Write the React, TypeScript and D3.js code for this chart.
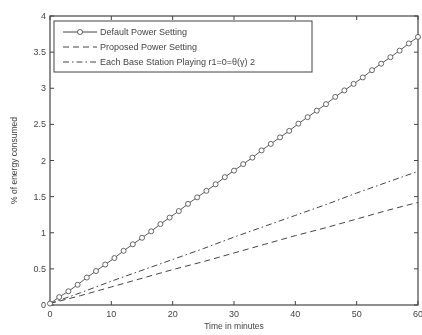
import React from "react";
import * as d3 from "d3";

const defaultTimes = [0, 1.5, 3, 4.5, 6, 7.5, 9, 10.5, 12, 13.5, 15, 16.5, 18, 19.5, 21, 22.5, 24, 25.5, 27, 28.5, 30, 31.5, 33, 34.5, 36, 37.5, 39, 40.5, 42, 43.5, 45, 46.5, 48, 49.5, 51, 52.5, 54, 55.5, 57, 58.5, 60];
const defaultValues = [0.02, 0.11, 0.19, 0.28, 0.38, 0.47, 0.56, 0.65, 0.75, 0.84, 0.93, 1.02, 1.12, 1.21, 1.3, 1.4, 1.49, 1.58, 1.67, 1.77, 1.86, 1.95, 2.04, 2.14, 2.23, 2.32, 2.41, 2.51, 2.6, 2.69, 2.78, 2.88, 2.97, 3.06, 3.15, 3.25, 3.34, 3.43, 3.52, 3.62, 3.71];
const lineTimes = [0, 5, 10, 15, 20, 25, 30, 35, 40, 45, 50, 55, 60];
const proposedValues = [0.02, 0.13, 0.25, 0.37, 0.49, 0.6, 0.72, 0.84, 0.96, 1.07, 1.19, 1.31, 1.42];
const eachValues = [0.02, 0.17, 0.33, 0.48, 0.63, 0.78, 0.94, 1.09, 1.24, 1.39, 1.55, 1.7, 1.85];
const xTicks = [0, 10, 20, 30, 40, 50, 60];
const yTicks = [0, 0.5, 1, 1.5, 2, 2.5, 3, 3.5, 4];
const legendLabels = ["Default Power Setting", "Proposed Power Setting", "Each Base Station Playing r1=0=θ(γ) 2"];

const W = 422, H = 335;
const L = 50, R = 418, T = 16, B = 305;
const ink = "#444";

export default function App() {
  const x = d3.scaleLinear().domain([0, 60]).range([L, R]);
  const y = d3.scaleLinear().domain([0, 4]).range([B, T]);
  const line = d3.line<[number, number]>().x(d => x(d[0])).y(d => y(d[1]));
  const defPts: [number, number][] = defaultTimes.map((t, i) => [t, defaultValues[i]]);
  const propPts: [number, number][] = lineTimes.map((t, i) => [t, proposedValues[i]]);
  const eachPts: [number, number][] = lineTimes.map((t, i) => [t, eachValues[i]]);
  const font = "'Liberation Sans', Arial, sans-serif";
  const legY = [32, 47, 62];
  return (
    <div style={{ position: "absolute", left: 0, top: 0 }}>
      <svg width={W} height={H} style={{ display: "block", background: "#fff" }} fontFamily={font}>
        <defs>
          <filter id="blur"><feGaussianBlur stdDeviation="0.45" /></filter>
        </defs>
        <g filter="url(#blur)">
          <rect x={L} y={T} width={R - L} height={B - T} fill="none" stroke={ink} strokeWidth={1.2} />
          {xTicks.map(t => (
            <g key={"x" + t}>
              <line x1={x(t)} x2={x(t)} y1={B} y2={B - 4} stroke={ink} />
              <line x1={x(t)} x2={x(t)} y1={T} y2={T + 4} stroke={ink} />
              <text x={x(t)} y={B + 12} fontSize={9} textAnchor="middle" fill={ink}>{t}</text>
            </g>
          ))}
          {yTicks.map(t => (
            <g key={"y" + t}>
              <line x1={L} x2={L + 4} y1={y(t)} y2={y(t)} stroke={ink} />
              <line x1={R} x2={R - 4} y1={y(t)} y2={y(t)} stroke={ink} />
              <text x={L - 4} y={y(t) + 3} fontSize={9} textAnchor="end" fill={ink}>{t}</text>
            </g>
          ))}
          <text x={(L + R) / 2} y={329} fontSize={8.5} textAnchor="middle" fill={ink}>Time in minutes</text>
          <text transform={`translate(17,${(T + B) / 2}) rotate(-90)`} fontSize={8.5} textAnchor="middle" fill={ink}>% of energy consumed</text>

          <path d={line(eachPts) || ""} fill="none" stroke={ink} strokeWidth={1} strokeDasharray="6,3,1.5,3" />
          <path d={line(propPts) || ""} fill="none" stroke={ink} strokeWidth={1} strokeDasharray="6,4" />
          <path d={line(defPts) || ""} fill="none" stroke={ink} strokeWidth={0.9} />
          {defPts.map((p, i) => (
            <circle key={i} cx={x(p[0])} cy={y(p[1])} r={2.5} fill="#fff" stroke={ink} strokeWidth={0.8} />
          ))}

          <rect x={54} y={21} width={258} height={51} fill="#fff" stroke={ink} strokeWidth={1} />
          <line x1={63} x2={97} y1={legY[0]} y2={legY[0]} stroke={ink} />
          <circle cx={80} cy={legY[0]} r={2.5} fill="#fff" stroke={ink} strokeWidth={0.8} />
          <line x1={63} x2={97} y1={legY[1]} y2={legY[1]} stroke={ink} strokeDasharray="6,4" />
          <line x1={63} x2={97} y1={legY[2]} y2={legY[2]} stroke={ink} strokeDasharray="6,3,1.5,3" />
          {legendLabels.map((s, i) => (
            <text key={s} x={100} y={legY[i] + 3} fontSize={9} fill={ink}>{s}</text>
          ))}
        </g>
      </svg>
    </div>
  );
}
